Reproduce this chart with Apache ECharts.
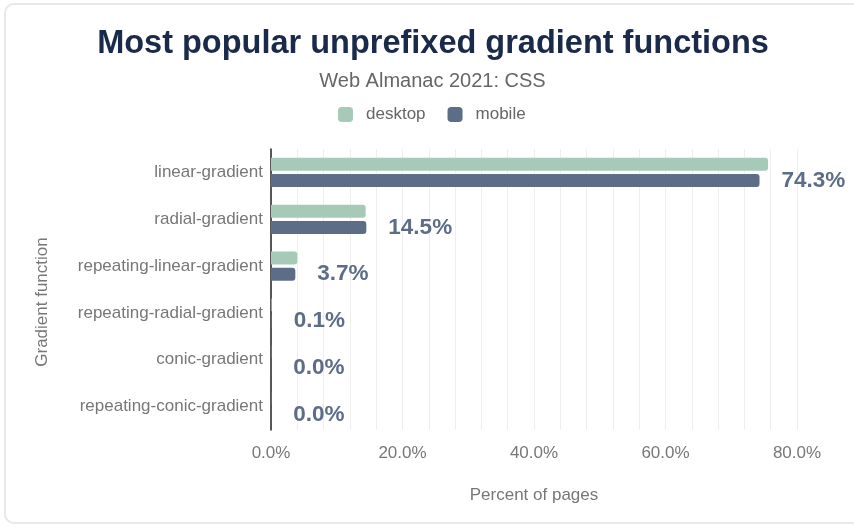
<!DOCTYPE html>
<html>
<head>
<meta charset="utf-8">
<script src="https://cdn.jsdelivr.net/npm/echarts@6/dist/echarts.min.js"></script>
<style>
html,body{margin:0;padding:0;background:#fff;}
#frame{position:absolute;left:4px;top:3px;width:900px;height:521px;border:2px solid #e8e8e8;border-radius:10px;box-sizing:border-box;}
#chart{position:absolute;left:0;top:0;width:854px;height:529px;}
</style>
</head>
<body>
<div id="frame"></div>
<div id="chart"></div>
<script>
const categories = ['linear-gradient','radial-gradient','repeating-linear-gradient','repeating-radial-gradient','conic-gradient','repeating-conic-gradient'];
const desktopValues = [75.6, 14.4, 4.0, 0.1, 0.03, 0.02];
const mobileValues = [74.3, 14.5, 3.7, 0.1, 0.03, 0.02];
const xTicks = [0, 20, 40, 60, 80];

const chart = echarts.init(document.getElementById('chart'), null, {renderer:'canvas'});
const font = '"Liberation Sans", Arial, Helvetica, sans-serif';
chart.setOption({
  backgroundColor: 'transparent',
  animation: false,
  title: [
    {text: 'Most popular unprefixed gradient functions', left: 428, textAlign: 'center', top: 23,
     textStyle: {fontFamily: font, fontSize: 32.5, fontWeight: 'bold', color: '#1a2a4a'}},
    {text: 'Web Almanac 2021: CSS', left: 427.5, textAlign: 'center', top: 66,
     textStyle: {fontFamily: font, fontSize: 20, fontWeight: 'normal', color: '#666'}}
  ],
  legend: {
    top: 101, left: 333, itemWidth: 15, itemHeight: 15, itemGap: 22,
    icon: 'roundRect',
    textStyle: {fontFamily: font, fontSize: 17, color: '#666', padding: [0,0,0,8]},
    data: ['desktop','mobile']
  },
  grid: {left: 271, right: 57, top: 149, bottom: 99, containLabel: false},
  xAxis: {
    type: 'value', min: 0, max: 80, interval: 4,
    name: 'Percent of pages', nameLocation: 'middle', nameGap: 57,
    nameTextStyle: {fontFamily: font, fontSize: 17, color: '#777'},
    axisLine: {show: false}, axisTick: {show: false},
    axisLabel: {fontFamily: font, fontSize: 17, color: '#777', margin: 15,
      formatter: v => xTicks.indexOf(Math.round(v)) >= 0 ? v.toFixed(1) + '%' : ''},
    splitLine: {show: true, lineStyle: {color: '#eeeeee', width: 1}}
  },
  yAxis: {
    type: 'category', data: categories, inverse: true,
    axisLine: {show: true, lineStyle: {color: '#222', width: 1.5}},
    axisTick: {show: false},
    axisLabel: {fontFamily: font, fontSize: 17, color: '#777', margin: 8}
  },
  graphic: [
    {type: 'text', rotation: Math.PI / 2, x: 42, y: 302,
     style: {text: 'Gradient function', fontFamily: font, fontSize: 17, fill: '#777',
       textAlign: 'center', textVerticalAlign: 'middle'}}
  ],
  series: [
    {name: 'desktop', type: 'bar', data: desktopValues, barWidth: 13, barGap: '25%',
     itemStyle: {color: '#a7c9b8', borderRadius: [0,3,3,0]}},
    {name: 'mobile', type: 'bar', data: mobileValues, barWidth: 13,
     itemStyle: {color: '#5d6d88', borderRadius: [0,3,3,0]},
     label: {show: true, position: 'right', distance: 22,
       fontFamily: font, fontSize: 22.5, fontWeight: 'bold', color: '#5d6d88',
       formatter: p => p.value.toFixed(1) + '%'}}
  ]
});
</script>
</body>
</html>
